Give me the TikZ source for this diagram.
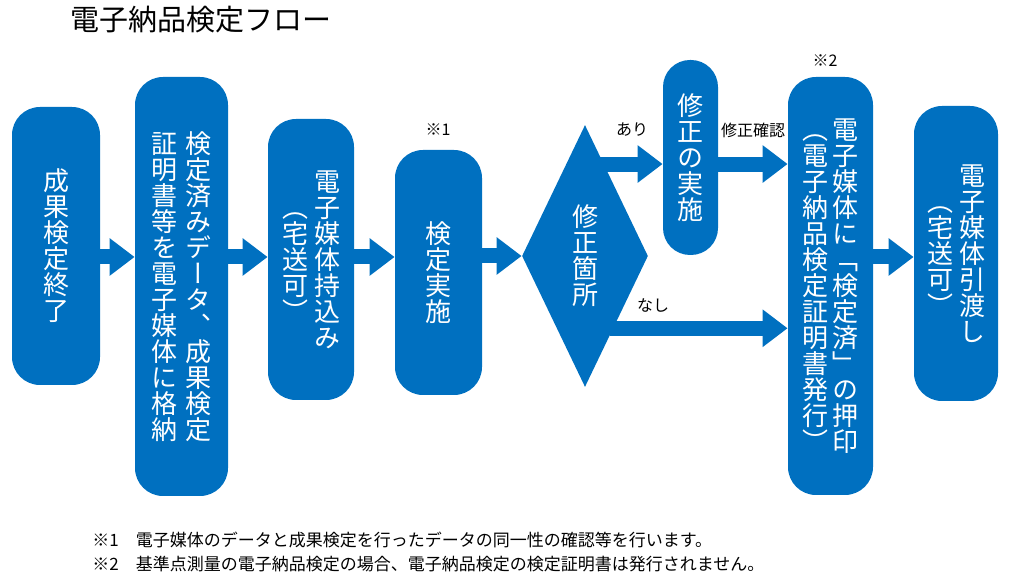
\documentclass[tikz,border=0pt]{standalone}
\usepackage{fontspec}
\setmainfont{Noto Sans CJK JP}
\newfontfamily\tatefont[RawFeature=+vert]{Noto Sans CJK JP}
\usetikzlibrary{arrows.meta,calc,shapes.geometric}
\definecolor{fblue}{RGB}{0,112,192}
\makeatletter
\newcommand\tate[1]{$\vcenter{\offinterlineskip\@tfor\tch:=#1\do{\hbox to 1em{\hss\rule[-.12em]{0pt}{1em}\tch\hss}}}$}
\makeatother
\newcommand\tatetwo[3][3pt]{\tate{#3}\hspace{#1}\tate{#2}}
\tikzset{
	box/.style={fill=fblue, text=white, rounded corners=14pt, inner sep=0pt,
		font=\tatefont\fontsize{13pt}{13pt}\selectfont},
	flow/.style={draw=fblue, line width=7.5pt, -{Triangle[width=18pt,length=12.5pt]}},
	small/.style={inner sep=0pt, font=\fontsize{8pt}{8pt}\selectfont},
}

\begin{document}
\begin{tikzpicture}[x=0.5pt, y=-0.5pt]
		%%%%% START %%%%%
		\useasboundingbox (0, 0) rectangle (1024, 576);
		
		\node[inner sep=0pt, anchor=west, font=\fontsize{14.5pt}{14.5pt}\selectfont] (title) at (70, 20) {電子納品検定フロー};
		
		\node[box, minimum width=44pt, minimum height=139pt] (b1) at (56, 246) {\tate{成果検定終了}};
		\node[box, minimum width=46.5pt, minimum height=209.5pt] (b2) at (181.5, 286.5) {\tatetwo[4pt]{検定済みデータ、成果検定}{証明書等を電子媒体に格納}};
		\node[box, minimum width=43pt, minimum height=140.5pt] (b3) at (311, 259.5) {\raisebox{-6pt}{\tatetwo{電子媒体持込み}{（宅送可）}}};
		\node[box, minimum width=43.5pt, minimum height=122.5pt] (b4) at (438.5, 272.5) {\tate{検定実施}};
		\node[box, sharp corners, diamond, aspect=0.5, minimum width=63pt, minimum height=131pt] (dia) at (585, 256) {\tate{修正箇所}};
		\node[box, rounded corners=13.5pt, minimum width=27.5pt, minimum height=97.5pt] (b5) at (690.5, 157.5) {\raisebox{-2pt}{\tate{修正の実施}}};
		\node[box, minimum width=42.5pt, minimum height=209pt] (b6) at (830.5, 286) {\tatetwo[2pt]{電子媒体に「検定済」の押印}{（電子納品検定証明書発行）}};
		\node[box, minimum width=42pt, minimum height=147.5pt] (b7) at (956, 253.5) {\tatetwo{電子媒体引渡し}{（宅送可）}};
		
		\node[small] (n1) at (438, 130) {※1};
		\node[small] (n2) at (825, 61) {※2};
		
		\coordinate (row) at (0, 257);
		\draw[flow] (b1.east |- row) -- (b2.west |- row);
		\draw[flow] (b2.east |- row) -- (b3.west |- row);
		\draw[flow] (b3.east |- row) -- (b4.west |- row);
		\draw[flow] (b4.east |- dia.west) -- (dia.west);
		\draw[flow] (b6.east |- row) -- (b7.west |- row);
		
		\coordinate (ari) at ($(dia.north)!0.3!(dia.east)$);
		\coordinate (nashi) at ($(dia.south)!0.45!(dia.east)$);
		\draw[flow] ([xshift=-2pt]ari) -- (b5.west |- ari);
		\draw[flow] (b5.east |- ari) -- (b6.west |- ari);
		\draw[flow] ([xshift=-2pt]nashi) -- (b6.west |- nashi);
		
		\node[small] (lari) at (632, 130) {あり};
		\node[small] (lkaku) at (753, 130) {修正確認};
		\node[small] (lnashi) at (653, 305) {なし};
		
		\node[inner sep=0pt, anchor=west, font=\fontsize{8.5pt}{8.5pt}\selectfont] (fn1) at (92, 540) {※1　電子媒体のデータと成果検定を行ったデータの同一性の確認等を行います。};
		\node[inner sep=0pt, anchor=west, font=\fontsize{8.5pt}{8.5pt}\selectfont] (fn2) at (92, 564) {※2　基準点測量の電子納品検定の場合、電子納品検定の検定証明書は発行されません。};
		
		%%%%% END %%%%%
	\end{tikzpicture}
\end{document}
